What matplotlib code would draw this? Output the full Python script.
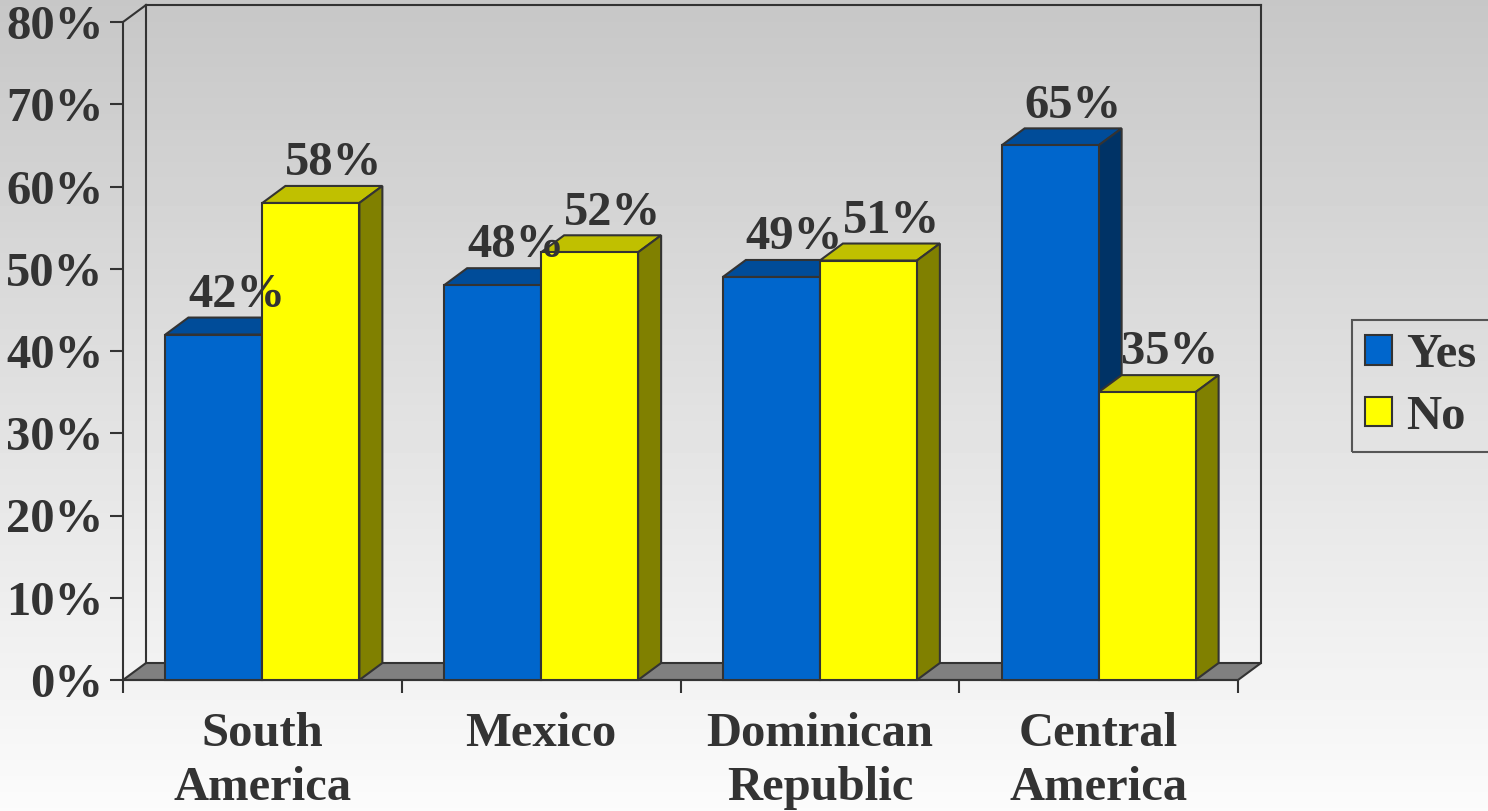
import matplotlib
matplotlib.use('Agg')
import matplotlib.pyplot as plt
import numpy as np
from matplotlib.patches import Polygon, Patch
from matplotlib.lines import Line2D

# ---------------- data ----------------
categories = ['South\nAmerica', 'Mexico', 'Dominican\nRepublic', 'Central\nAmerica']
yes_vals = [42, 48, 49, 65]
no_vals = [58, 52, 51, 35]
series_names = ['Yes', 'No']
yticks = [0, 10, 20, 30, 40, 50, 60, 70, 80]
ytick_labels = [f'{v}%' for v in yticks]

# ---------------- style ----------------
W, H = 1488, 811
TXT = '#333333'
EDGE = '#333333'
front_cols = ['#0066CC', '#FFFF00']
top_cols = ['#004C99', '#C0C000']
side_cols = ['#003366', '#808000']
FONT = dict(family='Liberation Serif', weight='bold', size=35)

fig = plt.figure(figsize=(W / 100, H / 100), dpi=100)

# gradient background
bg = fig.add_axes([0, 0, 1, 1], zorder=-10)
grad = np.linspace(0.78, 0.985, 256).reshape(-1, 1)
bg.imshow(grad, cmap='gray', vmin=0, vmax=1, aspect='auto',
          extent=[0, 1, 0, 1], origin='upper')
bg.axis('off')

x0_px, x1_px, y0_px, y1_px = 123, 1238, 680, 22
ax = fig.add_axes([x0_px / W, (H - y0_px) / H, (x1_px - x0_px) / W, (y0_px - y1_px) / H])
ax.set_xlim(0, 4)
ax.set_ylim(0, 80)
ax.patch.set_alpha(0)

px_per_x = (x1_px - x0_px) / 4.0
px_per_y = (y0_px - y1_px) / 80.0
ddx = 23 / px_per_x
ddy = 17 / px_per_y

# floor
floor = Polygon([(0, 0), (4, 0), (4 + ddx, ddy), (ddx, ddy)], closed=True,
                facecolor='#808080', edgecolor=EDGE, lw=1.5, clip_on=False, zorder=1)
ax.add_patch(floor)
# back walls outline
wall_lines = [
    ([ddx, ddx], [ddy, 80 + ddy]),
    ([ddx, 4 + ddx], [80 + ddy, 80 + ddy]),
    ([4 + ddx, 4 + ddx], [ddy, 80 + ddy]),
    ([0, ddx], [80, 80 + ddy]),
]
for xs, ys in wall_lines:
    ax.add_line(Line2D(xs, ys, color=EDGE, lw=1.5, clip_on=False, zorder=1))

# bars
w = 97 / px_per_x
z = 3
for i, cat in enumerate(categories):
    c = i + 0.5
    for s, vals in enumerate([yes_vals, no_vals]):
        v = vals[i]
        left = c - w if s == 0 else c
        right = left + w
        top = Polygon([(left, v), (right, v), (right + ddx, v + ddy), (left + ddx, v + ddy)],
                      closed=True, facecolor=top_cols[s], edgecolor=EDGE, lw=1.5,
                      clip_on=False, zorder=z)
        side = Polygon([(right, 0), (right + ddx, ddy), (right + ddx, v + ddy), (right, v)],
                       closed=True, facecolor=side_cols[s], edgecolor=EDGE, lw=1.5,
                       clip_on=False, zorder=z)
        ax.add_patch(top)
        ax.add_patch(side)
        ax.bar([left], [v], width=w, align='edge', color=front_cols[s], edgecolor=EDGE,
               lw=1.5, zorder=z + 0.5, clip_on=False)
        z += 1

# value labels
for i in range(len(categories)):
    c = i + 0.5
    for s, vals in enumerate([yes_vals, no_vals]):
        v = vals[i]
        xc = c - w / 2 if s == 0 else c + w / 2
        ax.annotate(f'{v}%', xy=(xc, v), xytext=(16.5, 20), textcoords='offset points',
                    ha='center', va='baseline', color=TXT, zorder=50,
                    annotation_clip=False, **FONT)

# axes styling
for sp in ['top', 'right']:
    ax.spines[sp].set_visible(False)
for sp in ['left', 'bottom']:
    ax.spines[sp].set_color(EDGE)
    ax.spines[sp].set_linewidth(1.5)
    ax.spines[sp].set_zorder(2)

ax.set_yticks(yticks)
ax.set_yticklabels(ytick_labels, **FONT, color=TXT)
ax.tick_params(axis='y', direction='out', length=9.5, width=1.5, color=EDGE, pad=4.5)

ax.set_xticks([0, 1, 2, 3, 4])
ax.set_xticklabels([])
ax.tick_params(axis='x', which='major', direction='out', length=9.5, width=1.5, color=EDGE)
ax.set_xticks([0.5, 1.5, 2.5, 3.5], minor=True)
ax.set_xticklabels(categories, minor=True, color=TXT, linespacing=1.3, **FONT)
ax.tick_params(axis='x', which='minor', length=0, pad=23)

# legend
handles = [Patch(facecolor=front_cols[k], edgecolor=EDGE, lw=1.5) for k in range(2)]
leg = fig.legend(handles, series_names, loc='upper left',
                 bbox_to_anchor=(1352 / W, 1 - 320 / H), borderaxespad=0,
                 prop=dict(family='Liberation Serif', weight='bold', size=35),
                 frameon=True, fancybox=False, facecolor='none', edgecolor=EDGE,
                 handlelength=0.55, handleheight=0.55, handletextpad=0.3,
                 borderpad=0.27, labelspacing=0.36)
leg.get_frame().set_linewidth(1.5)
for t in leg.get_texts():
    t.set_color(TXT)

fig.savefig('out.png', dpi=100)
